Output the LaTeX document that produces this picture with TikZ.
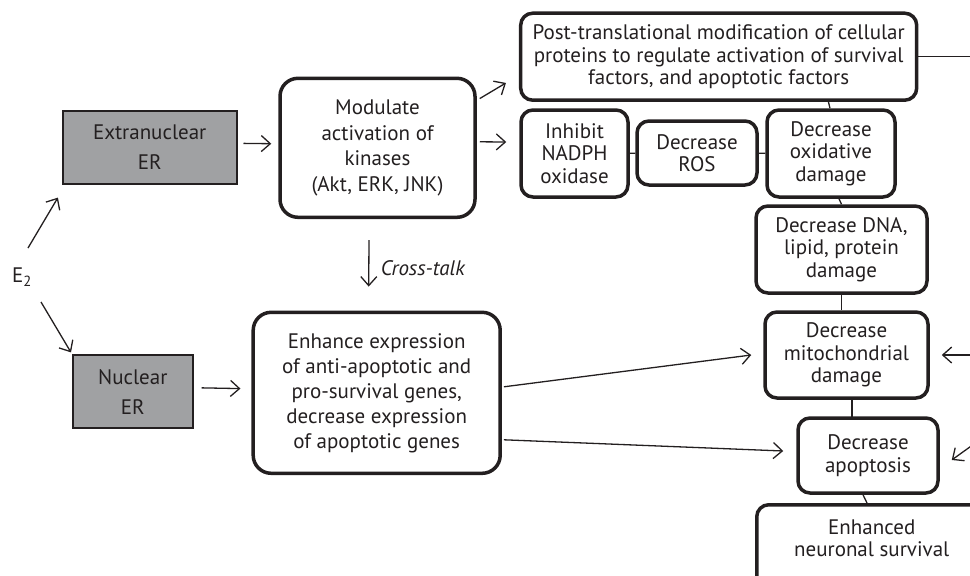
\documentclass[tikz,border=0pt]{standalone}
\usepackage{fontspec}
\setmainfont{PT Sans}
\usetikzlibrary{arrows.meta,calc}
\definecolor{ink}{HTML}{231F20}
\definecolor{ergray}{HTML}{A0A1A3}
\tikzset {>={Straight Barb[length=9pt,width=16pt]}}
\tikzset{
  receptor/.style={draw=ink,fill=ergray,line width=1.6pt,align=center,inner sep=0pt,
    font=\fontsize{21}{30}\selectfont},
  roundbox/.style={draw=ink,line width=3.5pt,rounded corners=12pt,align=center,inner sep=0pt,
    font=\fontsize{21}{22.5}\selectfont},
  arr/.style={->,draw=ink,line width=1.3pt},
  link/.style={draw=ink,line width=1.3pt}
}

\begin{document}
\begin{tikzpicture}[x=1pt,y=-1pt,text=ink]
\useasboundingbox (0,0) rectangle (970,576);
\clip (0,0) rectangle (970,576);
\node[font=\fontsize{21}{22}\selectfont] (e2) at (22,277) {E\textsubscript{2}};
\node[receptor,minimum width=174pt,minimum height=73pt] (extra) at (149.7,147.3) {Extranuclear\\ER};
\node[receptor,minimum width=120pt,minimum height=73pt] (nuc) at (132.8,391.7) {Nuclear\\ER};
\node[roundbox,rounded corners=18pt,minimum width=195pt,minimum height=139pt,
  font=\fontsize{21}{25.5}\selectfont] (mod) at (377.5,147.8)
  {Modulate\\activation of\\kinases\\(Akt, ERK, JNK)};
\node[roundbox,rounded corners=18pt,minimum width=247pt,minimum height=161pt,
  font=\fontsize{21}{25}\selectfont] (enh) at (376.7,392.8)
  {Enhance expression\\of anti-apoptotic and\\pro-survival genes,\\decrease expression\\of apoptotic genes};
\node[roundbox,minimum width=396pt,minimum height=87pt] (post) at (718.7,56.7)
  {Post-translational modification of cellular\\proteins to regulate activation of survival\\factors, and apoptotic factors};
\node[roundbox,minimum width=107pt,minimum height=87pt] (inh) at (574.5,153.5) {Inhibit\\NADPH\\oxidase};
\node[roundbox,minimum width=120pt,minimum height=64pt] (ros) at (697,153) {Decrease\\ROS};
\node[roundbox,minimum width=128pt,minimum height=87pt] (oxi) at (831,153.5) {Decrease\\oxidative\\damage};
\node[roundbox,minimum width=171pt,minimum height=87pt] (dna) at (841.5,249.5) {Decrease DNA,\\lipid, protein\\damage};
\node[roundbox,minimum width=163pt,minimum height=86pt] (mito) at (846.5,355) {Decrease\\mitochondrial\\damage};
\node[roundbox,minimum width=140pt,minimum height=75pt] (apo) at (868,455.5) {Decrease\\apoptosis};
\node[roundbox,anchor=north west,minimum width=230pt,inner ysep=15pt,text depth=40pt] (surv) at (755,503)
  {Enhanced\\neuronal survival};
\coordinate (edgeA) at (975,56.7);
\coordinate (edgeB) at (975,355);
\coordinate (edgeC) at (975,443.3);
\draw[arr] ($(e2)+(6,-29)$) -- ($(extra.south west)+(-4,13)$);
\draw[arr] ($(e2)+(19,25)$) -- ($(nuc.north west)+(-1,-2)$);
\draw[arr,shorten <=6pt,shorten >=7pt] ([yshift=4pt]extra.east) -- ([yshift=4pt]mod.west);
\draw[arr,shorten <=8pt,shorten >=11pt] ([yshift=4pt]nuc.east) -- ([yshift=4pt]enh.west);
\draw[arr] ($(mod.north east)+(3,22)$) -- ($(post.south west)+(-13,-19)$);
\draw[arr] ($(mod.east)+(3,-6)$) -- ($(inh.west)+(-13,-11.5)$);
\draw[arr] ($(mod.south)+(-8.5,21)$) -- ($(enh.north)+(-8,-24)$)
  node[pos=0.6,right,xshift=8pt,font=\fontsize{21}{22}\itshape] {Cross-talk};
\draw[arr] ($(enh.east)+(2,-6)$) -- ($(mito.west)+(-12,0)$);
\draw[arr] ($(enh.east)+(2,47)$) -- ($(apo.west)+(-13,-4.5)$);
\draw[link] (post) -- (edgeA);
\draw[link] ($(post.south east)+(-90,0)$) -- ($(oxi.north)+(-1,0)$);
\draw[link] (inh) -- (ros);
\draw[link] (ros) -- (oxi);
\draw[link] ($(oxi.south)+(8,0)$) -- (dna.north);
\draw[link] (dna.south) -- (dna.south |- mito.north);
\draw[link] ($(mito.south)+(5.5,0)$) -- ($(mito.south)+(5.5,20)$);
\draw[link] ($(apo.south)+(-5,0)$) -- ($(surv.north west)+(112,0)$);
\draw[arr] (edgeB) -- ($(mito.east)+(12,0)$);
\draw[arr] (edgeC) -- ($(apo.east)+(12,4.5)$);
\end{tikzpicture}
\end{document}
